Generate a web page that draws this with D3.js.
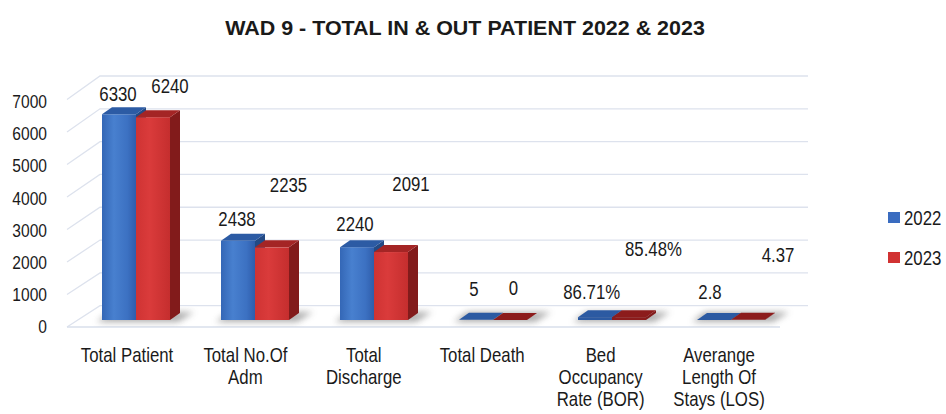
<!DOCTYPE html>
<html>
<head>
<meta charset="utf-8">
<script src="https://cdn.jsdelivr.net/npm/d3@7"></script>
<style>
  html, body { margin: 0; padding: 0; background: #ffffff; }
  svg { display: block; }
  text { font-family: "Liberation Sans", Arial, sans-serif; fill: #1a1a1a; }
</style>
</head>
<body>
<svg id="chart" width="946" height="414"></svg>
<script>
// ---------------- data ----------------
const title = "WAD 9 - TOTAL IN & OUT PATIENT 2022 & 2023";
const categories = ["Total Patient", "Total No.Of\nAdm", "Total\nDischarge", "Total Death",
                    "Bed\nOccupancy\nRate (BOR)", "Averange\nLength Of\nStays (LOS)"];
const seriesNames = ["2022", "2023"];
const values2022 = [6330, 2438, 2240, 5, 86.71, 2.8];
const values2023 = [6240, 2235, 2091, 0, 85.48, 4.37];
const valueSuffix = ["", "", "", "", "%", ""];
const yTicks = [0, 1000, 2000, 3000, 4000, 5000, 6000, 7000];

// data-label nudges (labels were moved by hand in the source chart)
const labelDx2022 = [-1, -1, -2, -2, -3.3, -4];
const labelDy2022 = [-20.8, -22.3, -23.5, -30.8, -25.5, -28.2];
const labelDx2023 = [17, 16.5, 20, 3.5, 24.5, 30];
const labelDy2023 = [-31.2, -62.9, -68.7, -32.5, -68.9, -64.9];

// ---------------- layout ----------------
const svg = d3.select("#chart");
const NARROW = 0.82;
const depthX = 10, depthY = -7;          // bar depth offset

const yBar   = d3.scaleLinear().domain([0, 7000]).range([320, 92.5]);
const yFront = d3.scaleLinear().domain([0, 7000]).range([327, 99.5]);
const yBack  = d3.scaleLinear().domain([0, 7000]).range([305.7, 76]);
const yTick  = d3.scaleLinear().domain([0, 7000]).range([326, 101.5]);

const xPair = d3.scaleBand().domain(categories).range([102, 765])
  .paddingInner(0.4286).paddingOuter(0);
const xSeries = d3.scaleBand().domain(seriesNames).range([0, xPair.bandwidth()]);
const xLabel = d3.scalePoint().domain(categories).range([127, 719]);

const colors = {
  "2022": { top: "#2c5ba4", side: "#234a85", legend: "#3a6cc0", grad: "gBlue" },
  "2023": { top: "#a42525", side: "#821b1b", legend: "#d13232", grad: "gRed" }
};

// ---------------- defs ----------------
const defs = svg.append("defs");
const gb = defs.append("linearGradient").attr("id", "gBlue").attr("x1", 0).attr("x2", 1).attr("y1", 0).attr("y2", 0);
[[0, "#3467b6"], [0.35, "#4880cf"], [0.75, "#3c71c2"], [1, "#2f5dab"]].forEach(s =>
  gb.append("stop").attr("offset", s[0]).attr("stop-color", s[1]));
const gr = defs.append("linearGradient").attr("id", "gRed").attr("x1", 0).attr("x2", 1).attr("y1", 0).attr("y2", 0);
[[0, "#cf3333"], [0.4, "#da3b3b"], [1, "#c52e2e"]].forEach(s =>
  gr.append("stop").attr("offset", s[0]).attr("stop-color", s[1]));
defs.append("filter").attr("id", "blur").attr("x", "-20%").attr("y", "-50%").attr("width", "140%").attr("height", "200%")
  .append("feGaussianBlur").attr("stdDeviation", 3);

// ---------------- helpers ----------------
function ntext(parent, x, y, str, size, anchor, opts = {}) {
  const g = parent.append("g").attr("transform", `translate(${x},${y}) scale(${opts.sx || NARROW},1)`);
  const t = g.append("text").attr("x", 0).attr("y", 0)
    .attr("font-size", size).attr("text-anchor", anchor || "middle")
    .attr("font-weight", opts.bold ? "bold" : "normal")
    .attr("dy", opts.dy || 0).text(str);
  return { g, t };
}
const poly = pts => pts.map(p => p.join(",")).join(" ");

// ---------------- walls / gridlines ----------------
const grid = svg.append("g");
grid.append("polygon")
  .attr("points", poly([[67, yFront(0)], [780, yFront(0)], [808, yBack(0)], [100, yBack(0)]]))
  .attr("fill", "#ffffff");
yTicks.forEach(v => {
  grid.append("polyline")
    .attr("points", poly([[67, yFront(v)], [100, yBack(v)], [808, yBack(v)]]))
    .attr("fill", "none").attr("stroke", "#dde2ed").attr("stroke-width", 1.3);
});
grid.append("line").attr("x1", 67).attr("x2", 780).attr("y1", yFront(0)).attr("y2", yFront(0))
  .attr("stroke", "#d9dfeb").attr("stroke-width", 1.3);

// ---------------- bars ----------------
const barsG = svg.append("g");
const seriesVals = { "2022": values2022, "2023": values2023 };

categories.forEach((c, i) => {
  const x0 = xPair(c), w = xPair.bandwidth();
  barsG.append("polygon")
    .attr("points", poly([[x0 - 5, yBar(0) + 2], [x0 + w + 8, yBar(0) + 2],
                          [x0 + w + depthX + 14, yBar(0) + depthY - 1], [x0 + depthX - 2, yBar(0) + depthY - 1]]))
    .attr("fill", "#6a6a6a").attr("opacity", 0.55).attr("filter", "url(#blur)");
  seriesNames.forEach(s => {
    const v = seriesVals[s][i];
    const bx = x0 + xSeries(s), bw = xSeries.bandwidth();
    const yt = yBar(v), yb = yBar(0);
    const col = colors[s];
    const tall = yb - yt > 4;
    barsG.append("polygon")
      .attr("points", poly([[bx + bw, yt], [bx + bw + depthX, yt + depthY], [bx + bw + depthX, yb + depthY], [bx + bw, yb]]))
      .attr("fill", col.side);
    if (tall) {
      barsG.append("rect").attr("x", bx).attr("y", yt).attr("width", bw).attr("height", yb - yt)
        .attr("fill", `url(#${col.grad})`);
    } else if (yb - yt > 0.3) {
      barsG.append("rect").attr("x", bx).attr("y", yt).attr("width", bw).attr("height", yb - yt)
        .attr("fill", s === "2022" ? "#2c5aa2" : "#8c1c1c");
    }
    barsG.append("polygon")
      .attr("points", poly([[bx, yt], [bx + bw, yt], [bx + bw + depthX, yt + depthY], [bx + depthX, yt + depthY]]))
      .attr("fill", tall ? col.top : (s === "2022" ? "#2c5aa2" : "#8c1c1c"));
  });
});

// ---------------- data labels ----------------
const labelsG = svg.append("g");
categories.forEach((c, i) => {
  const x0 = xPair(c), bw = xSeries.bandwidth();
  const fmt = v => d3.format("")(v) + valueSuffix[i];
  const v1 = values2022[i], v2 = values2023[i];
  ntext(labelsG, x0 + xSeries("2022") + bw / 2 + labelDx2022[i], yBar(v1) + labelDy2022[i], fmt(v1), 20.5, "middle", { dy: "0.36em" });
  ntext(labelsG, x0 + xSeries("2023") + bw / 2 + labelDx2023[i], yBar(v2) + labelDy2023[i], fmt(v2), 20.5, "middle", { dy: "0.36em" });
});

// ---------------- axes text ----------------
const axG = svg.append("g");
yTicks.forEach(v => ntext(axG, 47, yTick(v), String(v), 19, "end", { dy: "0.36em" }));
categories.forEach(c => {
  c.split("\n").forEach((line, k) => ntext(axG, xLabel(c), 361.5 + k * 22, line, 20.5, "middle"));
});

// ---------------- legend ----------------
const lg = svg.append("g");
seriesNames.forEach((s, k) => {
  const cy = 218 + k * 40;
  lg.append("rect").attr("x", 888).attr("y", cy - 6).attr("width", 12).attr("height", 11).attr("fill", colors[s].legend);
  ntext(lg, 904, cy, s, 20.5, "start", { dy: "0.36em" });
});

// ---------------- title ----------------
const tt = ntext(svg, 465, 35, title, 20, "middle", { bold: true, sx: 1 });
const natural = tt.t.node().getComputedTextLength();
tt.g.attr("transform", `translate(465,35) scale(${480 / natural},1)`);
</script>
</body>
</html>
